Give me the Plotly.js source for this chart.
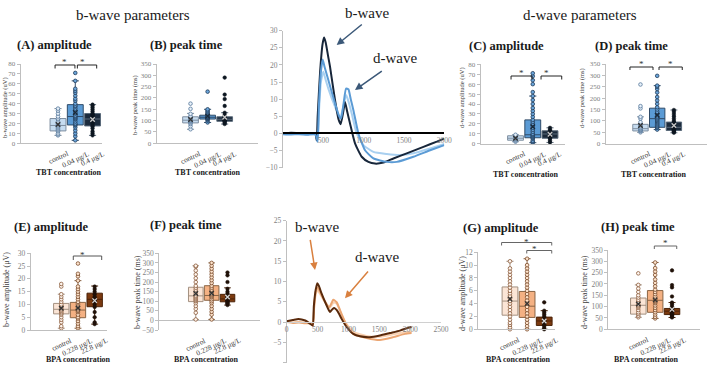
<!DOCTYPE html>
<html><head><meta charset="utf-8">
<script src="https://cdn.plot.ly/plotly-3.0.1.min.js"></script>
<style>html,body{margin:0;padding:0;background:#fff}#chart{width:708px;height:365px}</style>
</head><body><div id="chart"></div>
<script>
// ---------------- DATA ----------------
const tbtGroups = ['control', '0.04 μg/L', '0.4 μg/L'];
const bpaGroups = ['control', '0.228 μg/L', '22.8 μg/L'];

// (A) b-wave amplitude, TBT
const A_q1 = [12.5, 18.5, 17.5], A_med = [18, 27, 24.5], A_q3 = [25, 39, 30];
const A_lo = [8, 3, 8], A_hi = [35, 63, 39], A_mean = [19, 31, 24];
const A_pts = [
  [8, 9, 10, 12, 13, 14, 15, 16, 17, 18, 19, 20, 21, 22, 24, 25, 27, 30, 33, 35],
  [3, 7, 10, 13, 16, 18, 19, 20, 22, 24, 25, 26, 27, 28, 30, 31, 33, 35, 37, 38, 40, 43, 45, 48, 51, 53, 55, 63, 71],
  [8, 10, 12, 15, 17, 18, 20, 21, 22, 23, 24, 25, 26, 27, 28, 29, 30, 32, 34, 36, 38, 39]];
// (B) b-wave peak time, TBT
const B_q1 = [90, 107, 97], B_med = [102, 115, 106], B_q3 = [117, 124, 117];
const B_lo = [62, 92, 85], B_hi = [132, 150, 135], B_mean = [105, 120, 115];
const B_pts = [
  [62, 75, 85, 90, 95, 98, 100, 103, 105, 110, 115, 120, 130, 152, 175],
  [92, 100, 105, 108, 110, 112, 113, 115, 117, 120, 122, 125, 130, 135, 140, 145, 150, 228],
  [85, 90, 95, 98, 100, 102, 104, 105, 107, 110, 112, 115, 118, 125, 135, 165, 195, 215, 290]];
// (C) d-wave amplitude, TBT
const C_q1 = [3.5, 6, 5.5], C_med = [5.5, 9, 9.8], C_q3 = [8, 24, 13];
const C_lo = [2, 1, 1.3], C_hi = [9, 48, 16], C_mean = [5.5, 17, 9.5];
const C_pts = [
  [2, 3, 4, 5, 5.5, 6, 7, 8, 9],
  [1, 2, 3, 5, 6, 7, 8, 9, 10, 12, 14, 16, 18, 20, 22, 24, 27, 30, 33, 36, 40, 44, 48, 52, 60, 64, 68, 71],
  [1.3, 3, 5, 6, 7, 8, 9, 10, 11, 12, 13, 14, 16]];
// (D) d-wave peak time, TBT
const D_q1 = [56, 72, 58], D_med = [66, 110, 72], D_q3 = [85, 156, 95];
const D_lo = [50, 62, 48], D_hi = [118, 255, 148], D_mean = [80, 125, 80];
const D_pts = [
  [50, 55, 58, 60, 62, 65, 68, 70, 75, 80, 85, 95, 110, 118, 155, 165, 260],
  [62, 70, 75, 80, 85, 90, 95, 100, 105, 110, 115, 120, 130, 140, 150, 160, 175, 190, 205, 225, 240, 250, 255, 298],
  [48, 52, 55, 58, 60, 63, 65, 68, 70, 73, 75, 78, 80, 85, 90, 95, 100, 110, 120, 130, 140, 148]];
// (E) b-wave amplitude, BPA
const E_q1 = [6.3, 4.8, 9.1], E_med = [8.1, 7.8, 12], E_q3 = [10.4, 10.8, 14.4];
const E_lo = [0.7, 0.7, 2.3], E_hi = [14, 19.3, 17.2], E_mean = [8.5, 8.6, 11.5];
const E_pts = [
  [0.7, 1.5, 3, 4, 5, 6, 6.5, 7, 7.5, 8, 8.5, 9, 9.5, 10, 11, 12, 13, 14, 17, 18],
  [0.7, 1.5, 2.5, 3.5, 4.5, 5, 6, 7, 7.5, 8, 8.5, 9, 10, 10.5, 11, 12, 13, 14, 15, 16, 17, 19.3, 21, 22, 26],
  [2.3, 3, 5, 7, 9, 10, 11, 11.5, 12, 12.5, 13, 14, 15, 16, 17]];
// (F) b-wave peak time, BPA
const F_q1 = [98, 105, 97], F_med = [128, 130, 112], F_q3 = [173, 181, 136];
const F_lo = [5, 5, 80], F_hi = [285, 300, 170], F_mean = [140, 142, 122];
const F_pts = [
  [5, 40, 60, 75, 90, 100, 105, 110, 115, 120, 125, 130, 140, 150, 160, 170, 180, 200, 220, 240, 260, 280, 285],
  [5, 30, 45, 60, 75, 90, 100, 110, 120, 125, 130, 135, 140, 150, 160, 170, 180, 195, 210, 225, 240, 255, 270, 285, 300],
  [80, 85, 90, 95, 100, 105, 108, 110, 115, 120, 125, 130, 140, 150, 165, 200, 235, 250]];
// (G) d-wave amplitude, BPA
const G_q1 = [2.2, 1.85, 0.6], G_med = [4.4, 3.6, 1.3], G_q3 = [6.6, 5.9, 1.9];
const G_lo = [0, 0, 0], G_hi = [10.6, 11, 2.9], G_mean = [4.7, 4.0, 1.3];
const G_pts = [
  [0, 0.3, 0.7, 1, 1.5, 2, 2.5, 3, 3.5, 4, 4.4, 4.8, 5.2, 5.6, 6, 6.5, 7, 7.5, 8, 8.5, 9, 9.5, 10.6],
  [0, 0.5, 1, 1.5, 2, 2.5, 3, 3.5, 4, 4.5, 5, 5.5, 6, 6.5, 7, 7.5, 8, 8.5, 9, 9.5, 10, 11],
  [0, 0.2, 0.5, 0.7, 0.9, 1.1, 1.3, 1.5, 1.7, 2, 2.3, 2.6, 2.9, 4.2]];
// (H) d-wave peak time, BPA
const H_q1 = [67, 75, 65], H_med = [106, 128, 80], H_q3 = [138, 171, 92];
const H_lo = [53, 48, 52], H_hi = [196, 295, 118], H_mean = [112, 130, 88];
const H_pts = [
  [53, 60, 68, 75, 85, 95, 100, 105, 110, 120, 130, 140, 150, 165, 180, 196, 247],
  [48, 55, 65, 75, 85, 95, 105, 115, 120, 125, 130, 135, 145, 155, 165, 175, 190, 205, 220, 240, 255, 270, 295],
  [52, 58, 62, 65, 68, 70, 72, 75, 78, 80, 83, 86, 90, 95, 100, 110, 118, 145, 185, 195, 260]];

// TBT ERG waveforms (time ms, amplitude uV)
const tbtDark_t = [0, 100, 200, 300, 400, 418, 430, 460, 490, 509, 530, 560, 583, 645, 690, 715, 745, 769, 795, 831, 893, 976, 1059, 1141, 1245, 1369, 1534, 1741, 1907, 2000];
const tbtDark_v = [0, 0.2, 0.1, 0.1, 0, -2, 5, 18, 26, 28, 26.5, 22.5, 19.5, 9.7, 4, 2.7, 6, 9.2, 6.5, 2.9, -2.9, -6.8, -8.3, -8.8, -8.5, -7.3, -5.8, -3.9, -2.4, -1.5];
const tbtMid_t = [0, 100, 200, 300, 400, 420, 430, 445, 470, 492, 515, 562, 645, 699, 720, 750, 782, 811, 840, 873, 935, 1017, 1121, 1286, 1410, 1617, 1824, 2000];
const tbtMid_v = [-0.2, -0.3, -0.2, -0.4, -0.3, -1.5, -2.4, 8, 18, 21.6, 19.5, 15.6, 8.8, 4.9, 4.4, 8.5, 13.1, 12.9, 10, 6.8, 0, -4.9, -7.3, -8.3, -8.3, -6.8, -4.9, -3.4];
const tbtLight_t = [0, 100, 200, 300, 400, 420, 430, 445, 470, 500, 525, 562, 645, 707, 740, 782, 810, 852, 914, 997, 1121, 1286, 1452, 1617, 1824, 2000];
const tbtLight_v = [0, -0.1, 0, -0.2, -0.1, -1.2, -1.5, 6, 15, 18, 16, 13.1, 7.8, 4.4, 7, 11.2, 9.5, 5.8, 0, -3.4, -5.4, -6, -6.3, -5.8, -4.4, -3.1];

// BPA ERG waveforms
const bpaDark_t = [0, 100, 190, 300, 380, 421, 440, 470, 496, 520, 566, 647, 701, 740, 771, 809, 850, 890, 971, 1079, 1187, 1348, 1510, 1672, 1834, 1969, 2023];
const bpaDark_v = [0.2, 0.5, 0.8, 0.4, -0.4, -0.8, 4, 8, 9.6, 9, 7, 4.1, 2.5, 3.2, 3.5, 3.0, 2, 0.8, -1.2, -2.9, -3.5, -3.7, -3.3, -2.7, -2.1, -1.4, -1.2];
const bpaMid_t = [0, 100, 200, 300, 400, 425, 445, 470, 496, 530, 593, 690, 755, 809, 850, 890, 971, 1079, 1295, 1510, 1726, 1915, 2023];
const bpaMid_v = [0, -0.2, -0.1, -0.3, -0.3, -1, 4, 7.5, 8.6, 7.8, 5.8, 3.7, 5.5, 4.9, 3.5, 2, -0.8, -2.9, -3.9, -4.4, -3.7, -2.9, -2.7];
const bpaLight_t = [0, 100, 200, 300, 400, 425, 445, 470, 500, 530, 600, 690, 760, 810, 850, 890, 971, 1079, 1295, 1510, 1726, 1915, 2023];
const bpaLight_v = [0.1, 0, 0.1, -0.1, -0.2, -0.8, 3.5, 6.8, 7.8, 7.2, 5.4, 3.5, 4.8, 4.5, 3.3, 1.8, -0.5, -2.4, -3.4, -3.6, -3.0, -2.5, -2.4];

// ---------------- DRAWING ----------------
const W = 708, H = 365;
const SERIF = 'Liberation Serif, DejaVu Serif, serif';
const GRAY = '#bfbfbf', TICKC = '#7f7f7f';
const traces = [];
const layout = {width: W, height: H, margin: {l: 0, r: 0, t: 0, b: 0}, paper_bgcolor: '#fff',
  plot_bgcolor: 'rgba(0,0,0,0)', showlegend: false, shapes: [], annotations: []};
const sfx = n => n === 1 ? '' : String(n);

const tbtStyle = {
  fill: ['#c6dcf0', '#5b9bd5', '#1c2b3c'], line: ['#7f8fa0', '#2f4b68', '#5a6a7a'],
  mean: ['#333', '#1a2a3a', '#c8c8c8'],
  pt: [{color: '#e8f1fa', line: {color: '#55779a', width: 0.8}},
       {color: '#6aa5db', line: {color: '#1f3a57', width: 0.8}},
       {color: '#0d1620', line: {color: '#0d1620', width: 0.5}}]};
const bpaStyle = {
  fill: ['#fbe5d6', '#f4b183', '#7b3a10'], line: ['#a39080', '#8a6545', '#4a2208'],
  mean: ['#333', '#333', '#d8d8d8'],
  pt: [{color: '#fff6ef', line: {color: '#8a5a3a', width: 0.8}},
       {color: '#fde3cc', line: {color: '#7a4a2a', width: 0.8}},
       {color: '#1f1008', line: {color: '#1f1008', width: 0.5}}]};

function boxPanel(n, g, groups, q1, med, q3, lo, hi, mean, pts, sty, tickSize, labSize) {
  const s = sfx(n);
  layout['xaxis' + s] = {domain: [g.xl / W, g.xr / W], range: g.xr_, type: 'category',
    categoryorder: 'array', categoryarray: groups, showline: !g.zeroAx, linecolor: GRAY, linewidth: 1,
    ticks: '', showticklabels: false, showgrid: false, zeroline: false, anchor: 'y' + s, fixedrange: true};
  layout['yaxis' + s] = {domain: [1 - g.yb / H, 1 - g.yt / H], range: g.yr, tickmode: 'linear',
    tick0: g.yr[0], dtick: g.dt, ticks: 'outside', ticklen: 3, tickcolor: GRAY, showline: true,
    linecolor: GRAY, linewidth: 1, tickfont: {family: SERIF, size: tickSize, color: TICKC},
    showgrid: false, zeroline: !!g.zeroAx, zerolinecolor: GRAY, zerolinewidth: 1,
    anchor: 'x' + s, fixedrange: true};
  groups.forEach((c, i) => {
    traces.push({type: 'box', x: [c], q1: [q1[i]], median: [med[i]], q3: [q3[i]],
      lowerfence: [lo[i]], upperfence: [hi[i]], xaxis: 'x' + s, yaxis: 'y' + s,
      fillcolor: sty.fill[i], line: {color: sty.line[i], width: 1}, whiskerwidth: 0.45,
      width: 0.92, boxpoints: false, hoverinfo: 'skip'});
  });
  groups.forEach((c, i) => {
    traces.push({type: 'scatter', mode: 'markers', x: pts[i].map(() => c), y: pts[i],
      xaxis: 'x' + s, yaxis: 'y' + s, cliponaxis: false, hoverinfo: 'skip',
      marker: Object.assign({size: 3.6, symbol: 'circle'}, sty.pt[i])});
  });
  traces.push({type: 'scatter', mode: 'markers', x: groups, y: mean, xaxis: 'x' + s, yaxis: 'y' + s,
    hoverinfo: 'skip', marker: {symbol: 'x-thin', size: 4.5, line: {width: 1.3, color: sty.mean}}});
  groups.forEach((c, i) => {
    layout.annotations.push({xref: 'x' + s, yref: 'y' + s + ' domain', x: i, y: 0, text: c,
      showarrow: false, textangle: -25, xanchor: 'center', yanchor: 'top', yshift: -3,
      font: {family: SERIF, size: labSize, color: '#3a3a3a'}});
  });
}

function bracket(n, g, i0, i1, pyTop, pyLeg, pyStar, color) {
  const s = sfx(n);
  const fxd = i => (i - g.xr_[0]) / (g.xr_[1] - g.xr_[0]);
  const fyd = py => (g.yb - py) / (g.yb - g.yt);
  const xr = 'x' + s + ' domain', yr = 'y' + s + ' domain';
  const L = {type: 'line', xref: xr, yref: yr, line: {color: color, width: 1}};
  layout.shapes.push(Object.assign({}, L, {x0: fxd(i0), x1: fxd(i0), y0: fyd(pyLeg), y1: fyd(pyTop)}));
  layout.shapes.push(Object.assign({}, L, {x0: fxd(i0), x1: fxd(i1), y0: fyd(pyTop), y1: fyd(pyTop)}));
  layout.shapes.push(Object.assign({}, L, {x0: fxd(i1), x1: fxd(i1), y0: fyd(pyLeg), y1: fyd(pyTop)}));
  layout.annotations.push({xref: xr, yref: yr, x: (fxd(i0) + fxd(i1)) / 2, y: fyd(pyStar), text: '*',
    showarrow: false, yanchor: 'middle', font: {family: SERIF, size: 9, color: '#333'}});
}

// geometry (pixels)
const gA = {xl: 20.7, xr: 101.7, yt: 64, yb: 143.3, xr_: [-2.16, 2.53], yr: [0, 80], dt: 10};
const gB = {xl: 156.7, xr: 258, yt: 64, yb: 143.3, xr_: [-1.98, 3.95], yr: [0, 350], dt: 50};
const gC = {xl: 480.7, xr: 565, yt: 64.3, yb: 143.7, xr_: [-2.02, 2.87], yr: [0, 80], dt: 10};
const gD = {xl: 605.7, xr: 707, yt: 64, yb: 143.7, xr_: [-2.08, 3.98], yr: [0, 350], dt: 50};
const gE = {xl: 30.7, xr: 106.7, yt: 253.3, yb: 330, xr_: [-1.83, 2.72], yr: [0, 30], dt: 5};
const gF = {xl: 159.3, xr: 260, yt: 253.3, yb: 330, xr_: [-2.3, 4.05], yr: [-50, 350], dt: 50, zeroAx: true};
const gG = {xl: 478.3, xr: 555, yt: 252.3, yb: 329.3, xr_: [-1.85, 2.63], yr: [0, 12], dt: 2};
const gH = {xl: 608.3, xr: 700, yt: 250, yb: 329.3, xr_: [-1.78, 3.66], yr: [0, 350], dt: 50};

boxPanel(1, gA, tbtGroups, A_q1, A_med, A_q3, A_lo, A_hi, A_mean, A_pts, tbtStyle, 7, 7.3);
boxPanel(2, gB, tbtGroups, B_q1, B_med, B_q3, B_lo, B_hi, B_mean, B_pts, tbtStyle, 7, 7.3);
boxPanel(4, gC, tbtGroups, C_q1, C_med, C_q3, C_lo, C_hi, C_mean, C_pts, tbtStyle, 7, 7.3);
boxPanel(5, gD, tbtGroups, D_q1, D_med, D_q3, D_lo, D_hi, D_mean, D_pts, tbtStyle, 7, 7.3);
boxPanel(6, gE, bpaGroups, E_q1, E_med, E_q3, E_lo, E_hi, E_mean, E_pts, bpaStyle, 7.5, 7.3);
boxPanel(7, gF, bpaGroups, F_q1, F_med, F_q3, F_lo, F_hi, F_mean, F_pts, bpaStyle, 7.5, 7.3);
boxPanel(9, gG, bpaGroups, G_q1, G_med, G_q3, G_lo, G_hi, G_mean, G_pts, bpaStyle, 7.5, 7.3);
boxPanel(10, gH, bpaGroups, H_q1, H_med, H_q3, H_lo, H_hi, H_mean, H_pts, bpaStyle, 7.5, 7.3);

bracket(1, gA, -0.17, 0.98, 65, 68.5, 62.5, '#222');
bracket(1, gA, 1.12, 2.24, 65, 68.5, 62.5, '#222');
bracket(4, gC, -0.26, 0.96, 76, 79.5, 73.5, '#222');
bracket(4, gC, 1.48, 2.68, 76, 79.5, 73.5, '#222');
bracket(5, gD, -0.63, 0.75, 67, 70, 64.5, '#222');
bracket(5, gD, 1.11, 2.5, 67, 70, 64.5, '#222');
bracket(6, gE, 0.72, 2.42, 256, 260, 254.5, '#555');
bracket(9, gG, -0.49, 2.44, 242.5, 245.5, 241.5, '#666');
bracket(9, gG, 0.98, 2.44, 250.5, 253.5, 249, '#666');
bracket(10, gH, 0.95, 2.28, 246, 249, 242.5, '#666');

// waveform panels
function wavePanel(n, xpx, ypx, xr, yr, xtv, xline) {
  const s = sfx(n);
  const d0 = 1 - ypx[1] / H, d1 = 1 - ypx[0] / H;
  const pos = d0 + (0 - yr[0]) / (yr[1] - yr[0]) * (d1 - d0);
  layout['xaxis' + s] = {domain: [xpx[0] / W, xpx[1] / W], range: xr, tickvals: xtv, anchor: 'free',
    position: pos, showline: true, linecolor: xline.c, linewidth: xline.w, ticks: '',
    tickfont: {family: SERIF, size: 7.5, color: TICKC}, showgrid: false, zeroline: false, fixedrange: true};
  layout['yaxis' + s] = {domain: [d0, d1], range: yr, tickmode: 'linear', tick0: yr[0], dtick: 5,
    ticks: 'outside', ticklen: 3, tickcolor: GRAY, showline: true, linecolor: GRAY, linewidth: 1,
    tickfont: {family: SERIF, size: 7.5, color: TICKC}, showgrid: false, zeroline: false,
    anchor: 'x' + s, fixedrange: true};
}
wavePanel(3, [283, 444.3], [30.7, 167.7], [0, 2000], [-10, 30], [500, 1000, 1500, 2000], {c: '#000', w: 2});
wavePanel(8, [286.7, 441], [220.7, 362.7], [0, 2500], [-10, 25], [0, 500, 1000, 1500, 2000, 2500], {c: '#d0d0d0', w: 1});

function line(n, t, v, color, w) {
  const s = sfx(n);
  traces.push({type: 'scatter', mode: 'lines', x: t, y: v, xaxis: 'x' + s, yaxis: 'y' + s,
    hoverinfo: 'skip', cliponaxis: false, line: {color: color, width: w, shape: 'spline', smoothing: 0.5}});
}
line(3, tbtLight_t, tbtLight_v, '#a9d0f0', 2);
line(3, tbtDark_t, tbtDark_v, '#17263a', 2);
line(3, tbtMid_t, tbtMid_v, '#5b9bd5', 2);
line(8, bpaLight_t, bpaLight_v, '#f9d2b3', 2);
line(8, bpaMid_t, bpaMid_v, '#eba673', 2);
line(8, bpaDark_t, bpaDark_v, '#5a2a0c', 2);

// ---------------- TEXT ----------------
function txt(x, y, text, size, opts) {
  layout.annotations.push(Object.assign({xref: 'paper', yref: 'paper', x: x / W, y: 1 - y / H, text: text,
    showarrow: false, xanchor: 'center', yanchor: 'middle',
    font: {family: SERIF, size: size, color: '#1a1a1a'}}, opts || {}));
}
txt(132.5, 15, 'b-wave parameters', 15);
txt(579.5, 15, 'd-wave parameters', 15);
const titles = [['(A) amplitude', 54.5, 45], ['(B) peak time', 186.5, 45], ['(C) amplitude', 506.5, 46.5],
  ['(D) peak time', 631.5, 46], ['(E) amplitude', 50.8, 226.7], ['(F) peak time', 186, 225.5],
  ['(G) amplitude', 500.5, 228.3], ['(H) peak time', 637.5, 227.3]];
titles.forEach(t => txt(t[1], t[2], '<b>' + t[0] + '</b>', 12.5));
const xtitles = [['TBT concentration', 69, 173], ['TBT concentration', 208, 173],
  ['TBT concentration', 526, 174], ['TBT concentration', 654, 174],
  ['BPA concentration', 78.3, 359.5], ['BPA concentration', 206, 359.5],
  ['BPA concentration', 518, 359.5], ['BPA concentration', 646.7, 359.5]];
xtitles.forEach(t => txt(t[1], t[2], '<b>' + t[0] + '</b>', 8));
const ytitles = [['b-wave amplitude (uV)', 5, 108, 6.5], ['b-wave peak time (ms)', 135, 105, 6.5],
  ['d-wave amplitude (uV)', 462, 98, 6.5], ['d-wave peak time (ms)', 582, 98, 6.5],
  ['b-wave amplitude (μV)', 6, 290, 8], ['b-wave peak time (ms)', 137, 292, 8],
  ['d-wave amplitude (μV)', 462, 294, 8], ['d-wave peak time (ms)', 584, 292, 8]];
ytitles.forEach(t => txt(t[1], t[2], t[0], t[3], {textangle: -90, font: {family: SERIF, size: t[3], color: '#404040'}}));

txt(367, 13, 'b-wave', 15);
txt(395, 58.3, 'd-wave', 15);
txt(316.7, 227.3, 'b-wave', 15);
txt(377.3, 256.7, 'd-wave', 15);
function arrow(tx, ty, hx, hy, color) {
  layout.annotations.push({xref: 'paper', yref: 'paper', x: hx / W, y: 1 - hy / H, ax: tx - hx, ay: ty - hy,
    axref: 'pixel', ayref: 'pixel', text: '', showarrow: true, arrowhead: 2, arrowsize: 1,
    arrowwidth: 1.5, arrowcolor: color});
}
arrow(363.3, 23.3, 336.7, 45, '#3b5878');
arrow(383.3, 70, 355, 90, '#3b5878');
arrow(310, 238.3, 315, 270, '#d9803f');
arrow(369.3, 270, 345, 298.3, '#d9803f');

Plotly.newPlot('chart', traces, layout, {staticPlot: true, displayModeBar: false});
</script>
</body></html>
